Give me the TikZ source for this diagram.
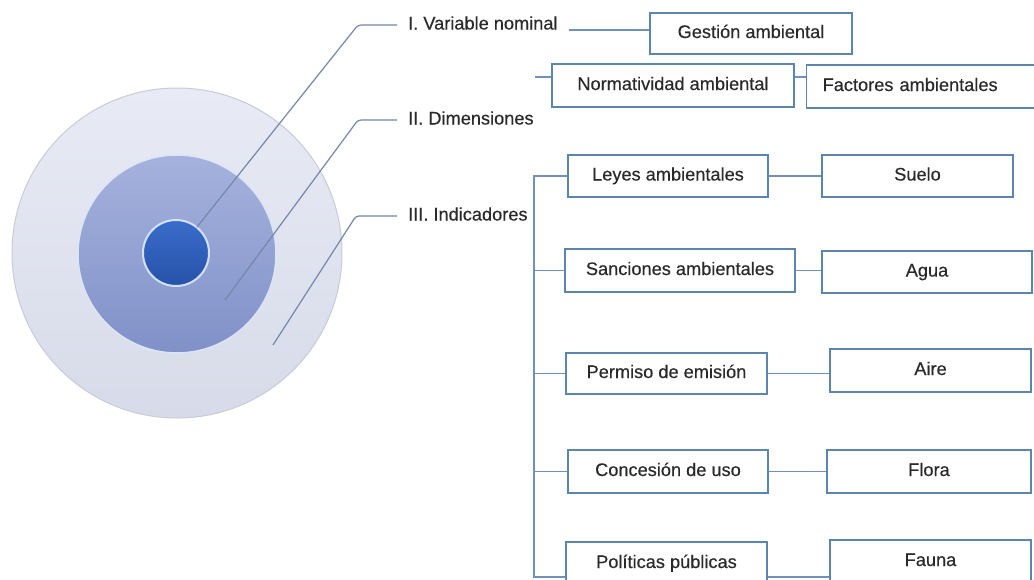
\documentclass[tikz,border=0pt]{standalone}
\usepackage{fontspec}
\setmainfont[FakeBold=0.35]{Liberation Sans}
\usetikzlibrary{shadows}
\definecolor{boxc}{HTML}{5A86B0}
\definecolor{connc}{HTML}{7090C0}
\definecolor{leadc}{HTML}{7388AB}
\definecolor{txtc}{HTML}{2A2A2A}
\begin{document}
\begin{tikzpicture}[x=1pt,y=-1pt,
  every node/.style={font=\fontsize{18.2}{21}\selectfont, text=txtc},
  box/.style={draw=boxc, line width=1.3pt, fill=white, inner sep=0pt,
    minimum height=43pt, text height=12.5pt, text depth=3.5pt,
    drop shadow={opacity=0.18, shadow xshift=1.2pt, shadow yshift=-1.2pt}},
  lab/.style={inner xsep=11pt, inner ysep=0pt, anchor=west, text height=12.5pt, text depth=3.5pt},
  leader/.style={draw=leadc, line width=1.2pt, rounded corners=3pt},
  conn/.style={draw=connc, line width=1.5pt}]
\useasboundingbox (0,0) rectangle (1034,579);
\clip (0,0) rectangle (1034,579);
\fill[white] (0,0) rectangle (1034,579);

% concentric circles
\shade[top color={rgb,255:red,232;green,235;blue,245}, bottom color={rgb,255:red,215;green,219;blue,233}]
  (177,253) circle[radius=165];
\draw[draw={rgb,255:red,200;green,203;blue,216}, line width=1pt] (177,253) circle[radius=165];
\shade[top color={rgb,255:red,166;green,178;blue,221}, bottom color={rgb,255:red,128;green,145;blue,200}]
  (177,254) circle[radius=99];
\draw[draw={rgb,255:red,220;green,229;blue,246}, line width=1.5pt] (177,254) circle[radius=99];
\shade[top color={rgb,255:red,58;green,108;blue,202}, bottom color={rgb,255:red,38;green,82;blue,168}]
  (176,253) circle[radius=33];
\draw[draw={rgb,255:red,210;green,225;blue,248}, line width=2pt] (176,253) circle[radius=33];

% labels
\node[lab] (lab1) at (397,25) {I. Variable nominal};
\node[lab] (lab2) at (397,120) {II. Dimensiones};
\node[lab] (lab3) at (397,216) {III. Indicadores};

\coordinate (p1) at (197,227);
\coordinate (p2) at (225,300);
\coordinate (p3) at (273,345);
\coordinate (c1) at (358,25);
\coordinate (c2) at (358,120);
\coordinate (c3) at (356,216);
\draw[leader] (p1) -- (c1) -- (lab1.west);
\draw[leader] (p2) -- (c2) -- (lab2.west);
\draw[leader] (p3) -- (c3) -- (lab3.west);

% boxes
\node[box, minimum width=202pt, minimum height=41pt] (gest) at (751,33.5) {Gestión ambiental};
\node[box, minimum width=242pt] (norm) at (673,85.5) {Normatividad ambiental};
\node[box, anchor=west, minimum width=234pt, inner xsep=16pt, text width=202pt, align=left] (fact) at (806,86.5) {Factores ambientales};

\node[box, minimum width=200pt, minimum height=42pt] (leyes) at (668,176) {Leyes ambientales};
\node[box, minimum width=191pt, minimum height=42pt] (suelo) at (917.5,176) {Suelo};
\node[box, minimum width=230pt] (sanc) at (680,270.5) {Sanciones ambientales};
\node[box, minimum width=210pt, minimum height=42pt] (agua) at (927,272) {Agua};
\node[box, minimum width=201pt, minimum height=41pt] (perm) at (666.5,373.5) {Permiso de emisión};
\node[box, minimum width=201pt] (aire) at (930.5,370.5) {Aire};
\node[box, minimum width=200pt] (conc) at (668,471.5) {Concesión de uso};
\node[box, minimum width=204pt] (flora) at (929,471.5) {Flora};
\node[box, minimum width=201pt] (pol) at (666.5,563.5) {Políticas públicas};
\node[box, minimum width=201pt] (fauna) at (930.5,561.5) {Fauna};

% connectors top
\draw[conn] ([yshift=-5pt]lab1.east) -- ([yshift=-5pt]lab1.east -| gest.west);
\coordinate (nstub) at (535,77);
\draw[conn] (nstub) -- (nstub -| norm.west);
\draw[conn] (nstub -| norm.east) -- (nstub -| fact.west);

% bus
\coordinate (bt) at (534,176);
\coordinate (bb) at (534,577);
\draw[conn] (leyes.west) -- (bt) -- (bb) -- (bb -| pol.west);
\draw[conn] (sanc.west -| bt) -- (sanc.west);
\draw[conn] (perm.west -| bt) -- (perm.west);
\draw[conn] (conc.west -| bt) -- (conc.west);

% right connectors
\draw[conn] (leyes.east) -- (suelo.west);
\draw[conn] (sanc.east) -- (sanc.east -| agua.west);
\draw[conn] (perm.east) -- (perm.east -| aire.west);
\draw[conn] (conc.east) -- (conc.east -| flora.west);
\draw[conn] (bb -| pol.east) -- (bb -| fauna.west);
\end{tikzpicture}
\end{document}
